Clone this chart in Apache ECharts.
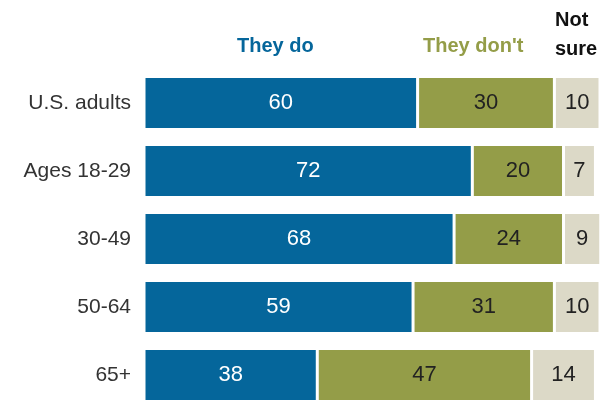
<!DOCTYPE html>
<html>
<head>
<meta charset="utf-8">
<script src="https://cdn.jsdelivr.net/npm/echarts@6/dist/echarts.min.js"></script>
<style>
html,body{margin:0;padding:0;background:#fff;overflow:hidden;}
#chart{width:609px;height:409px;}
</style>
</head>
<body>
<div id="chart"></div>
<script>
const categories = ['U.S. adults', 'Ages 18-29', '30-49', '50-64', '65+'];
const seriesNames = ['They do', "They don't", 'Not\nsure'];
const theyDo = [60, 72, 68, 59, 38];
const theyDont = [30, 20, 24, 31, 47];
const notSure = [10, 7, 9, 10, 14];

const colors = ['#05669b', '#949d48', '#dcd9c7'];
const labelColors = ['#ffffff', '#222222', '#222222'];
const font = '"Liberation Sans", Arial, sans-serif';
const values = [theyDo, theyDont, notSure];

const chart = echarts.init(document.getElementById('chart'), null, {renderer: 'canvas'});
chart.setOption({
  animation: false,
  grid: {left: 144, right: 9, top: 69, bottom: 0, containLabel: false},
  xAxis: {type: 'value', min: 0, max: 100, show: false},
  yAxis: {
    type: 'category', data: categories, inverse: true,
    axisLine: {show: false}, axisTick: {show: false},
    axisLabel: {fontSize: 21, color: '#333', fontFamily: font, margin: 13}
  },
  graphic: [
    {type: 'text', left: 237, top: 36, style: {text: seriesNames[0], fill: colors[0], font: 'bold 20px ' + font}},
    {type: 'text', left: 423, top: 36, style: {text: seriesNames[1], fill: '#949d48', font: 'bold 20px ' + font}},
    {type: 'text', left: 555, top: 6, style: {text: seriesNames[2], fill: '#111', font: 'bold 20px ' + font, lineHeight: 29}}
  ],
  series: values.map((v, i) => ({
    type: 'bar', stack: 'total', name: seriesNames[i], data: v,
    barWidth: 53,
    itemStyle: {color: colors[i], borderColor: '#fff', borderWidth: 1.5},
    label: {show: true, position: 'inside', fontSize: 22, fontFamily: font, color: labelColors[i]}
  }))
});
</script>
</body>
</html>
